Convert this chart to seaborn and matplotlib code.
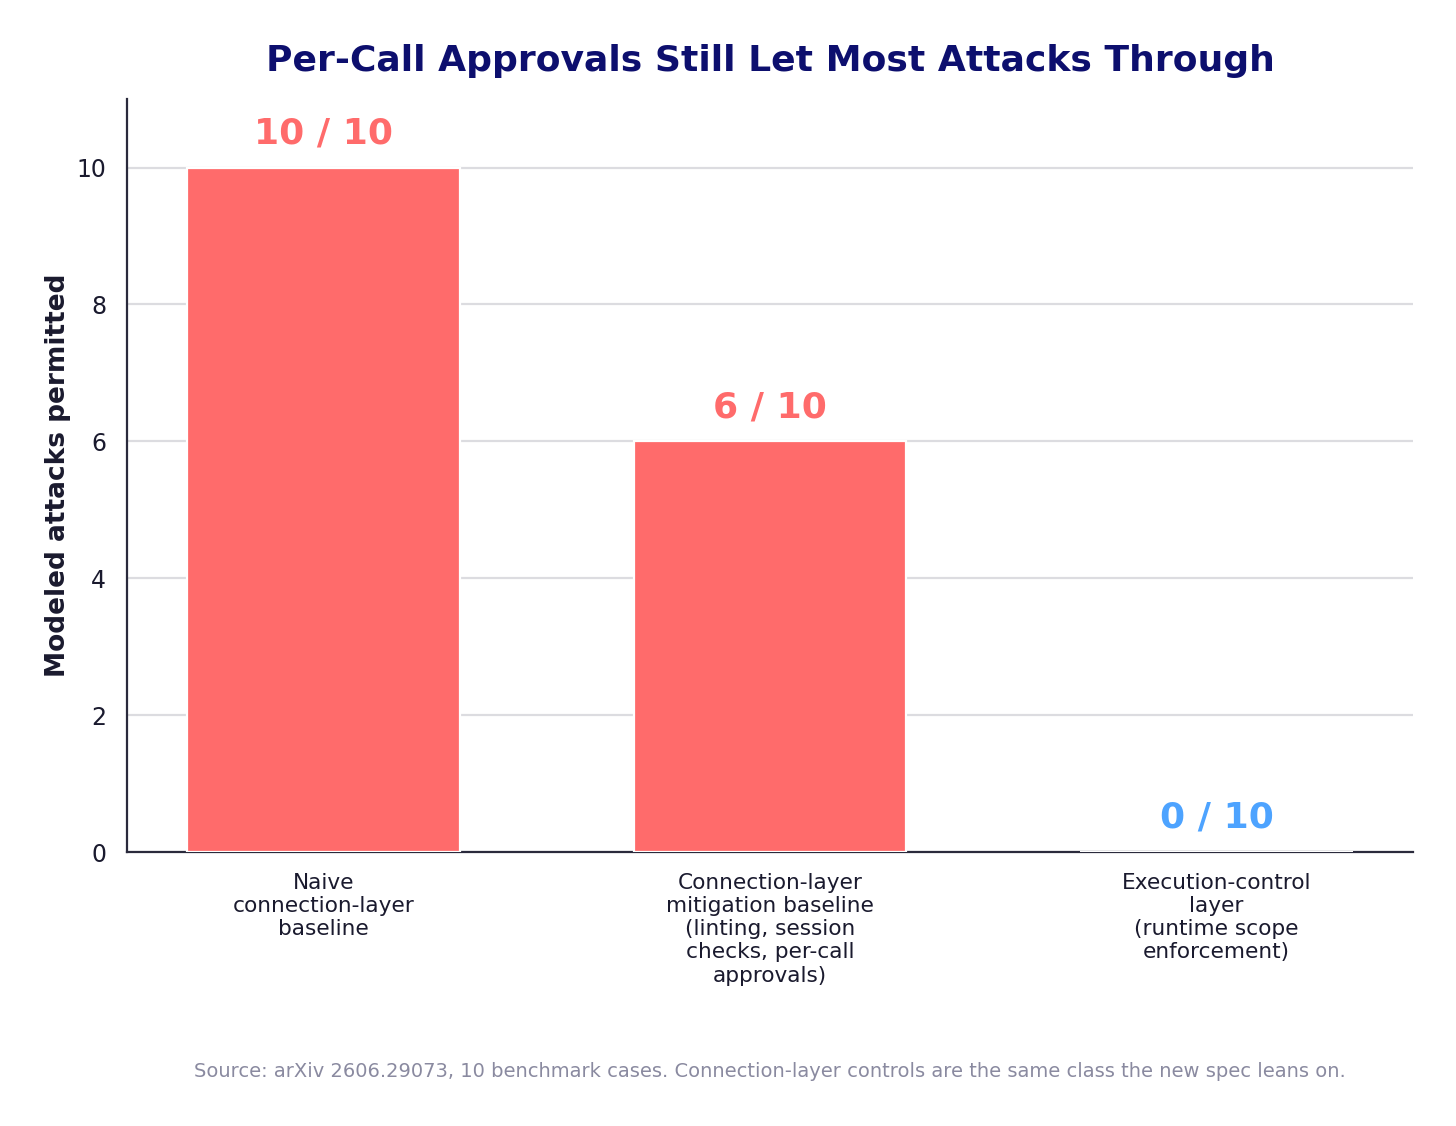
# Bar chart: modeled attacks permitted per control layer

import pandas as pd
import matplotlib.pyplot as plt
import seaborn as sns

categories = [
    'Naive\nconnection-layer\nbaseline',
    'Connection-layer\nmitigation baseline\n(linting, session\nchecks, per-call\napprovals)',
    'Execution-control\nlayer\n(runtime scope\nenforcement)',
]
permitted = [10, 6, 0]
total = 10
bar_colors = ['#FF6B6B', '#FF6B6B', '#4DA3FF']

df = pd.DataFrame({'layer': categories, 'permitted': permitted})

sns.set_style('white')
plt.rcParams['font.family'] = ['DejaVu Sans']

fig = plt.figure(figsize=(7.28, 5.63), dpi=200)
ax = fig.add_axes([0.0872, 0.2433, 0.9705 - 0.0872, 0.912 - 0.2433])

sns.barplot(data=df, x='layer', y='permitted', hue='layer', palette=bar_colors,
            legend=False, width=0.61, edgecolor='white', linewidth=0.8,
            saturation=1, ax=ax, zorder=3)

for i, v in enumerate(permitted):
    ax.text(i, v + 0.25, f'{v} / {total}', ha='center', va='bottom',
            fontsize=13, fontweight='bold', color=bar_colors[i])

ax.set_xlim(-0.44, 2.44)
ax.set_ylim(0, 11)
ax.set_yticks([0, 2, 4, 6, 8, 10])
ax.yaxis.grid(True, color='#DCDCE0', linewidth=0.8, zorder=0)
ax.set_axisbelow(True)

sns.despine(ax=ax)
for s in ['left', 'bottom']:
    ax.spines[s].set_color('#2A2A3C')
    ax.spines[s].set_linewidth(0.8)

ax.tick_params(axis='y', labelsize=8.5, colors='#1A1A2E', length=4, width=0.8)
ax.tick_params(axis='x', labelsize=7.8, colors='#1A1A2E', length=4, width=0.8)
ax.tick_params(axis='both', labelcolor='#1A1A2E')

ax.set_xlabel('')
ax.set_ylabel('Modeled attacks permitted', fontsize=9.5, fontweight='bold',
              color='#1A1A2E', labelpad=2)
ax.set_title('Per-Call Approvals Still Let Most Attacks Through', fontsize=13,
             fontweight='bold', color='#0D0F6E', pad=10)

fig.text(0.529, 0.048,
         'Source: arXiv 2606.29073, 10 benchmark cases. Connection-layer controls '
         'are the same class the new spec leans on.',
         ha='center', va='center', fontsize=7, color='#8A8AA0')

plt.savefig('out.png', dpi=200)
